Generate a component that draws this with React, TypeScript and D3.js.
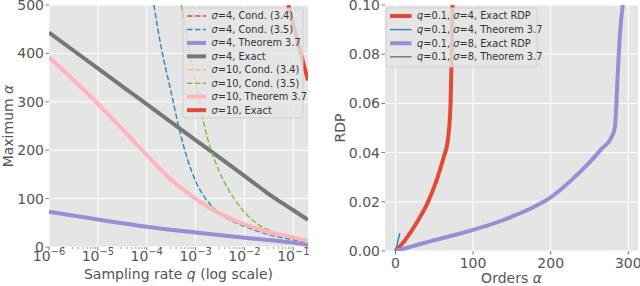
import React, { useEffect, useRef } from 'react';
import * as d3 from 'd3';

// ---- left panel: sampling rate q (log) vs maximum alpha ----
const qTicks = [1e-6, 1e-5, 1e-4, 1e-3, 1e-2, 1e-1];
const qTickExp = ['−6', '−5', '−4', '−3', '−2', '−1'];
const alphaTicks = [0, 100, 200, 300, 400, 500];

// [q, max alpha]
const sig4Cond34: number[][] = [];
const sig4Cond35 = [[1.4e-4, 500], [2e-4, 410], [3e-4, 330], [5e-4, 230], [7e-4, 178], [1e-3, 136], [1.5e-3, 104], [2e-3, 88], [3e-3, 70], [5e-3, 56], [1e-2, 43], [3e-2, 26], [0.1, 15], [0.2, 10]];
const sig4Thm37 = [[1e-6, 73], [1e-5, 57], [1e-4, 42], [1e-3, 30], [1e-2, 19], [0.1, 9], [0.2, 4]];
const sig4Exact = [[1e-6, 443], [1e-5, 369], [1e-4, 295], [1e-3, 221], [1e-2, 147], [3e-2, 111], [0.1, 76], [0.2, 56]];
const sig10Cond34 = [[2.5e-2, 36], [5e-2, 27], [0.1, 21], [0.2, 15]];
const sig10Cond35 = [[5.1e-4, 500], [7e-4, 420], [1e-3, 340], [1.5e-3, 252], [2e-3, 205], [3e-3, 158], [5e-3, 114], [8e-3, 84], [1.25e-2, 62], [2e-2, 45], [4e-2, 31], [0.1, 19], [0.2, 14]];
const sig10Thm37 = [[1e-6, 392], [1e-5, 296], [3e-5, 246], [1e-4, 190], [3e-4, 141], [1e-3, 100], [3e-3, 70], [1e-2, 47], [3e-2, 31], [0.1, 20], [0.2, 12]];
const sig10Exact = [[0.079, 500], [0.12, 428], [0.2, 344]];

const leftLabels = ['σ=4, Cond. (3.4)', 'σ=4, Cond. (3.5)', 'σ=4, Theorem 3.7', 'σ=4, Exact', 'σ=10, Cond. (3.4)', 'σ=10, Cond. (3.5)', 'σ=10, Theorem 3.7', 'σ=10, Exact'];

// ---- right panel: orders alpha vs RDP ----
const orderTicks = [0, 100, 200, 300];
const rdpTicks = [0, 0.02, 0.04, 0.06, 0.08, 0.1];

// [alpha, rdp]
const q01s4Exact = [[0, 0], [12, 0.0043], [29, 0.0124], [42, 0.02], [53, 0.0287], [62, 0.038], [67.5, 0.045], [71, 0.06], [72.5, 0.08], [73.5, 0.1]];
const q01s4Thm = [[0, 0], [5.5, 0.0072]];
const q01s8Exact = [[0, 0], [25, 0.0022], [50, 0.0044], [75, 0.0064], [100, 0.0086], [125, 0.011], [150, 0.014], [175, 0.0174], [200, 0.0218], [225, 0.0283], [250, 0.036], [265, 0.0413], [278.6, 0.0464], [282.9, 0.0504], [285.8, 0.068], [289.3, 0.0885], [292.8, 0.1]];
const q01s8Thm = [[0, 0], [2, 0.0004]];

const rightLabels = ['q=0.1, σ=4, Exact RDP', 'q=0.1, σ=4, Theorem 3.7', 'q=0.1, σ=8, Exact RDP', 'q=0.1, σ=8, Theorem 3.7'];

const FONT = 'DejaVu Sans, sans-serif';
const INK = '#555555';

// writes text with q, σ, α in italics like matplotlib mathtext
function richText(sel, str) {
    const parts = str.split(/([qσα])/).filter(s => s.length);
    parts.forEach(p => {
        const t = sel.append('tspan').text(p);
        if (/^[qσα]$/.test(p)) t.attr('font-style', 'italic');
    });
}

function drawLegend(g, items, box, rowStart, rowStep, hx0, hx1, tx) {
    g.append('rect')
        .attr('x', box[0]).attr('y', box[1])
        .attr('width', box[2]).attr('height', box[3])
        .attr('rx', 2)
        .attr('fill', '#E5E5E5').attr('fill-opacity', 0.8)
        .attr('stroke', '#CCCCCC').attr('stroke-opacity', 0.8).attr('stroke-width', 1);
    items.forEach((it, i) => {
        const y = rowStart + i * rowStep;
        g.append('line')
            .attr('x1', hx0).attr('x2', hx1).attr('y1', y).attr('y2', y)
            .attr('stroke', it.color).attr('stroke-width', it.width)
            .attr('stroke-dasharray', it.dashed ? '5.5,2.4' : null);
        const t = g.append('text')
            .attr('x', tx).attr('y', y).attr('dy', '0.35em')
            .attr('font-size', 9.8).attr('fill', '#333');
        richText(t, it.label);
    });
}

const App = () => {
    const svgRef = useRef(null);

    useEffect(() => {
        const svg = d3.select(svgRef.current);
        svg.selectAll('*').remove();
        svg.attr('font-family', FONT);

        // ================= left panel =================
        const L = { x0: 49, x1: 308, y0: 5, y1: 247 };
        const xL = d3.scaleLog().domain([1e-6, 0.2]).range([L.x0, L.x1]);
        const yL = d3.scaleLinear().domain([0, 500]).range([L.y1, L.y0]);

        const gL = svg.append('g');
        gL.append('rect').attr('x', L.x0).attr('y', L.y0)
            .attr('width', L.x1 - L.x0).attr('height', L.y1 - L.y0).attr('fill', '#E5E5E5');
        gL.append('clipPath').attr('id', 'clipL').append('rect')
            .attr('x', L.x0).attr('y', L.y0).attr('width', L.x1 - L.x0).attr('height', L.y1 - L.y0);

        // grid
        gL.selectAll('.gx').data(qTicks).enter().append('line')
            .attr('x1', d => xL(d)).attr('x2', d => xL(d)).attr('y1', L.y0).attr('y2', L.y1)
            .attr('stroke', '#fff').attr('stroke-width', 1);
        gL.selectAll('.gy').data(alphaTicks).enter().append('line')
            .attr('x1', L.x0).attr('x2', L.x1).attr('y1', d => yL(d)).attr('y2', d => yL(d))
            .attr('stroke', '#fff').attr('stroke-width', 1);

        const leftSeries = [
            { data: sig4Cond34, color: '#E24A33', width: 1.5, dashed: true },
            { data: sig4Cond35, color: '#348ABD', width: 1.5, dashed: true },
            { data: sig4Thm37, color: '#988ED5', width: 4, dashed: false },
            { data: sig4Exact, color: '#777777', width: 4, dashed: false },
            { data: sig10Cond34, color: '#FBC15E', width: 1.5, dashed: true },
            { data: sig10Cond35, color: '#8EBA42', width: 1.5, dashed: true },
            { data: sig10Thm37, color: '#FFB5B8', width: 4, dashed: false },
            { data: sig10Exact, color: '#E24A33', width: 4, dashed: false },
        ].map((s, i) => ({ ...s, label: leftLabels[i] }));

        const lineGen = d3.line().x(d => xL(d[0])).y(d => yL(d[1])).curve(d3.curveMonotoneX);
        const plotL = gL.append('g').attr('clip-path', 'url(#clipL)');
        leftSeries.forEach(s => {
            if (!s.data.length) return;
            plotL.append('path').datum(s.data)
                .attr('fill', 'none').attr('stroke', s.color).attr('stroke-width', s.width)
                .attr('stroke-dasharray', s.dashed ? '5.5,2.4' : null)
                .attr('d', lineGen);
        });

        // x ticks (log)
        qTicks.forEach((q, i) => {
            gL.append('line').attr('x1', xL(q)).attr('x2', xL(q)).attr('y1', L.y1).attr('y2', L.y1 + 3.5)
                .attr('stroke', INK).attr('stroke-width', 0.8);
            const t = gL.append('text').attr('x', xL(q)).attr('y', 261)
                .attr('text-anchor', 'middle').attr('font-size', 14).attr('fill', INK);
            t.append('tspan').text('10');
            t.append('tspan').attr('dy', -6).attr('font-size', 9.8).text(qTickExp[i]);
        });
        // minor ticks
        const minor = [];
        for (let e = -6; e <= -1; e++) for (let m = 2; m <= 9; m++) {
            const v = m * Math.pow(10, e);
            if (v <= 0.2) minor.push(v);
        }
        gL.selectAll('.mt').data(minor).enter().append('line')
            .attr('x1', d => xL(d)).attr('x2', d => xL(d)).attr('y1', L.y1).attr('y2', L.y1 + 2)
            .attr('stroke', INK).attr('stroke-width', 0.6);

        // y ticks
        alphaTicks.forEach(a => {
            gL.append('line').attr('x1', L.x0 - 3.5).attr('x2', L.x0).attr('y1', yL(a)).attr('y2', yL(a))
                .attr('stroke', INK).attr('stroke-width', 0.8);
            gL.append('text').attr('x', L.x0 - 5).attr('y', yL(a)).attr('dy', '0.36em')
                .attr('text-anchor', 'end').attr('font-size', 14).attr('fill', INK).text(a);
        });

        const xlabL = gL.append('text').attr('x', (L.x0 + L.x1) / 2).attr('y', 279)
            .attr('text-anchor', 'middle').attr('font-size', 14).attr('fill', INK);
        richText(xlabL, 'Sampling rate q (log scale)');
        const ylabL = gL.append('text').attr('transform', `translate(13, ${(L.y0 + L.y1) / 2}) rotate(-90)`)
            .attr('text-anchor', 'middle').attr('font-size', 14).attr('fill', INK);
        richText(ylabL, 'Maximum α');

        drawLegend(gL, leftSeries, [183, 8, 120, 110], 16, 13.45, 187, 206, 211.5);

        // ================= right panel =================
        const R = { x0: 385, x1: 638, y0: 5, y1: 251 };
        const xR = d3.scaleLinear().domain([-13.5, 312.5]).range([R.x0, R.x1]);
        const yR = d3.scaleLinear().domain([0, 0.1]).range([R.y1, R.y0]);

        const gR = svg.append('g');
        gR.append('rect').attr('x', R.x0).attr('y', R.y0)
            .attr('width', R.x1 - R.x0).attr('height', R.y1 - R.y0).attr('fill', '#E5E5E5');
        gR.append('clipPath').attr('id', 'clipR').append('rect')
            .attr('x', R.x0).attr('y', R.y0).attr('width', R.x1 - R.x0).attr('height', R.y1 - R.y0);

        gR.selectAll('.gx').data(orderTicks).enter().append('line')
            .attr('x1', d => xR(d)).attr('x2', d => xR(d)).attr('y1', R.y0).attr('y2', R.y1)
            .attr('stroke', '#fff').attr('stroke-width', 1);
        gR.selectAll('.gy').data(rdpTicks).enter().append('line')
            .attr('x1', R.x0).attr('x2', R.x1).attr('y1', d => yR(d)).attr('y2', d => yR(d))
            .attr('stroke', '#fff').attr('stroke-width', 1);

        const rightSeries = [
            { data: q01s4Exact, color: '#E24A33', width: 4, dashed: false },
            { data: q01s4Thm, color: '#348ABD', width: 1.5, dashed: false },
            { data: q01s8Exact, color: '#988ED5', width: 4, dashed: false },
            { data: q01s8Thm, color: '#777777', width: 1.5, dashed: false },
        ].map((s, i) => ({ ...s, label: rightLabels[i] }));

        const lineR = d3.line().x(d => xR(d[0])).y(d => yR(d[1])).curve(d3.curveMonotoneX);
        const plotR = gR.append('g').attr('clip-path', 'url(#clipR)');
        rightSeries.forEach(s => {
            plotR.append('path').datum(s.data)
                .attr('fill', 'none').attr('stroke', s.color).attr('stroke-width', s.width)
                .attr('d', lineR);
        });

        orderTicks.forEach(o => {
            gR.append('line').attr('x1', xR(o)).attr('x2', xR(o)).attr('y1', R.y1).attr('y2', R.y1 + 3.5)
                .attr('stroke', INK).attr('stroke-width', 0.8);
            gR.append('text').attr('x', xR(o)).attr('y', 268)
                .attr('text-anchor', 'middle').attr('font-size', 14).attr('fill', INK).text(o);
        });
        rdpTicks.forEach(r => {
            gR.append('line').attr('x1', R.x0 - 3.5).attr('x2', R.x0).attr('y1', yR(r)).attr('y2', yR(r))
                .attr('stroke', INK).attr('stroke-width', 0.8);
            gR.append('text').attr('x', R.x0 - 5).attr('y', yR(r)).attr('dy', '0.36em')
                .attr('text-anchor', 'end').attr('font-size', 14).attr('fill', INK).text(r.toFixed(2));
        });

        const xlabR = gR.append('text').attr('x', (R.x0 + R.x1) / 2).attr('y', 283)
            .attr('text-anchor', 'middle').attr('font-size', 14).attr('fill', INK);
        richText(xlabR, 'Orders α');
        gR.append('text').attr('transform', `translate(345, ${(R.y0 + R.y1) / 2}) rotate(-90)`)
            .attr('text-anchor', 'middle').attr('font-size', 14).attr('fill', INK).text('RDP');

        drawLegend(gR, rightSeries, [386, 8, 151, 59], 16, 13.6, 390, 411.5, 417);
    }, []);

    return (
        <svg ref={svgRef} width="640" height="286"
            style={{ position: 'absolute', left: 0, top: 0, background: '#fff' }}></svg>
    );
};

export default App;
